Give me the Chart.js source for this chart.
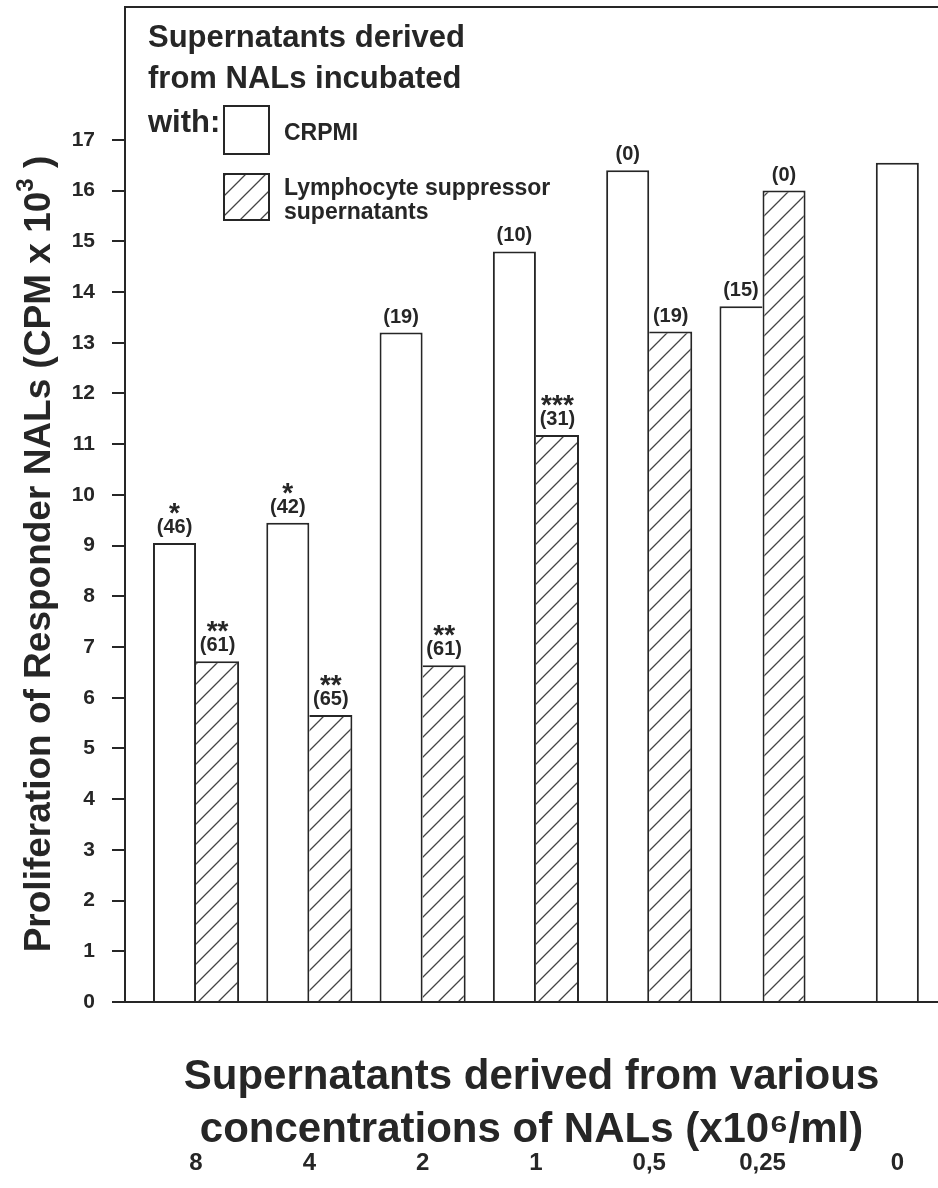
<!DOCTYPE html>
<html>
<head>
<meta charset="utf-8">
<script src="https://cdn.jsdelivr.net/npm/chart.js"></script>
<style>
  html, body { margin: 0; padding: 0; background: #fff; }
  #chart { display: block; }
</style>
</head>
<body>
<canvas id="chart" width="938" height="1188"></canvas>
<script>
// NAL concentrations used to make the supernatants (x10^6/ml)
const concentrations = ['8', '4', '2', '1', '0,5', '0,25', '0'];
// proliferation of responder NALs, CPM x 10^3
const crpmiValues = [9.05, 9.45, 13.2, 14.8, 16.4, 13.72];
const suppressorValues = [6.72, 5.66, 6.64, 11.18, 13.22, 16.0];
const controlValue = 16.55; // responders alone, at '0'
// % suppression and significance
const crpmiPct = ['(46)', '(42)', '(19)', '(10)', '(0)', '(15)'];
const crpmiStars = ['*', '*', '', '', '', ''];
const suppPct = ['(61)', '(65)', '(61)', '(31)', '(19)', '(0)'];
const suppStars = ['**', '**', '**', '***', '', ''];
const yTicks = [0, 1, 2, 3, 4, 5, 6, 7, 8, 9, 10, 11, 12, 13, 14, 15, 16, 17];

const FONT = '"Liberation Sans", Arial, Helvetica, sans-serif';
const INK = '#262626';
const barFrac = 0.76;
const xMin = -0.627, xMax = 6.549;

Chart.defaults.font.family = FONT;
Chart.defaults.color = INK;

function makeHatch() {
    const c = document.createElement('canvas');
    c.width = 20; c.height = 20;
    const g = c.getContext('2d');
    g.fillStyle = '#fff';
    g.fillRect(0, 0, 20, 20);
    g.strokeStyle = '#444';
    g.lineWidth = 1.3;
    g.beginPath();
    g.moveTo(-2, 22); g.lineTo(22, -2);
    g.moveTo(-2, 2); g.lineTo(2, -2);
    g.moveTo(18, 22); g.lineTo(22, 18);
    g.stroke();
    return g.createPattern(c, 'repeat');
}
const hatch = makeHatch();

// labels above the bars
const annotate = {
    id: 'annotate',
    afterDatasetsDraw(chart) {
        const ctx = chart.ctx;
        const marks = [[crpmiPct, crpmiStars], [suppPct, suppStars]];
        ctx.save();
        ctx.fillStyle = INK;
        ctx.textAlign = 'center';
        ctx.textBaseline = 'alphabetic';
        marks.forEach(([pct, stars], di) => {
            chart.getDatasetMeta(di).data.forEach((bar, i) => {
                ctx.font = `bold 20px ${FONT}`;
                ctx.fillText(pct[i], bar.x, bar.y - 10);
                if (stars[i]) {
                    ctx.font = `bold 28px ${FONT}`;
                    ctx.fillText(stars[i], bar.x, bar.y - 21);
                }
            });
        });
        ctx.restore();
    }
};

// frame top, legend block, y title
const decor = {
    id: 'decor',
    afterDraw(chart) {
        const ctx = chart.ctx;
        const a = chart.chartArea;
        ctx.save();
        ctx.strokeStyle = INK;
        ctx.lineWidth = 2;
        ctx.beginPath();
        ctx.moveTo(a.left, a.top);
        ctx.lineTo(a.right, a.top);
        ctx.stroke();

        ctx.fillStyle = INK;
        ctx.textAlign = 'left';
        ctx.textBaseline = 'alphabetic';
        ctx.font = `bold 31px ${FONT}`;
        ctx.fillText('Supernatants derived', 148, 47);
        ctx.fillText('from NALs incubated', 148, 88);
        ctx.fillText('with:', 148, 132);

        ctx.strokeRect(224, 106, 45, 48);
        ctx.fillStyle = hatch;
        ctx.fillRect(224, 174, 45, 46);
        ctx.strokeRect(224, 174, 45, 46);

        ctx.fillStyle = INK;
        ctx.font = `bold 23px ${FONT}`;
        ctx.fillText('CRPMI', 284, 140);
        ctx.fillText('Lymphocyte suppressor', 284, 195);
        ctx.fillText('supernatants', 284, 219);

        // rotated axis title with superscript
        const big = `bold 37px ${FONT}`, sup = `bold 24px ${FONT}`;
        const parts = [['Proliferation of Responder NALs (CPM x 10', big, 0], ['3', sup, -17], [' )', big, 0]];
        ctx.translate(50, 554);
        ctx.rotate(-Math.PI / 2);
        let w = 0;
        parts.forEach(p => { ctx.font = p[1]; w += ctx.measureText(p[0]).width; });
        let x = -w / 2;
        parts.forEach(p => {
            ctx.font = p[1];
            ctx.fillText(p[0], x, p[2]);
            x += ctx.measureText(p[0]).width;
        });
        ctx.restore();
    }
};

const edge = 2;
new Chart(document.getElementById('chart'), {
    type: 'bar',
    data: {
        datasets: [
            {
                label: 'CRPMI',
                data: crpmiValues.map((v, i) => ({ x: i, y: v })),
                backgroundColor: '#fff',
                borderColor: INK,
                borderWidth: c => ({ top: edge, left: edge, bottom: 0,
                    right: crpmiValues[c.dataIndex] >= suppressorValues[c.dataIndex] ? edge : 0 }),
                stack: 'a'
            },
            {
                label: 'Lymphocyte suppressor supernatants',
                data: suppressorValues.map((v, i) => ({ x: i, y: v })),
                backgroundColor: hatch,
                borderColor: INK,
                borderWidth: c => ({ top: edge, right: edge, bottom: 0,
                    left: suppressorValues[c.dataIndex] > crpmiValues[c.dataIndex] ? edge : 0 }),
                stack: 'b'
            },
            {
                label: 'Responders alone',
                data: [{ x: concentrations.length - 1, y: controlValue }],
                backgroundColor: '#fff',
                borderColor: INK,
                borderWidth: { top: edge, left: edge, right: edge, bottom: 0 },
                stack: 'b'
            }
        ]
    },
    options: {
        responsive: false,
        animation: false,
        categoryPercentage: barFrac,
        barPercentage: 1,
        layout: { padding: { top: 7, left: 0, right: 0, bottom: 0 } },
        plugins: { legend: { display: false }, tooltip: { enabled: false } },
        scales: {
            x: {
                type: 'linear', min: xMin, max: xMax, offset: false, stacked: true,
                afterBuildTicks: s => { s.ticks = concentrations.map((_, i) => ({ value: i })); },
                afterFit: s => { s.height = 149; s.paddingLeft = 0; s.paddingRight = 0; },
                grid: { display: false, drawTicks: false, offset: false },
                border: { display: true, color: INK, width: 2 },
                ticks: { display: false },
                title: {
                    display: true,
                    text: ['Supernatants derived from various', 'concentrations of NALs (x10\u2076/ml)'],
                    font: { size: 42, weight: 'bold', lineHeight: 1.24 },
                    color: INK,
                    padding: { top: 0, bottom: -5 }
                }
            },
            x2: {
                type: 'linear', position: 'bottom', weight: 1, min: xMin, max: xMax, offset: false,
                afterBuildTicks: s => {
                    s.ticks = concentrations.map((_, i) => ({
                        value: i === concentrations.length - 1 ? i + barFrac / 4 : i }));
                },
                afterFit: s => { s.height = 37; s.paddingLeft = 0; s.paddingRight = 0; },
                grid: { display: false, drawTicks: false },
                border: { display: false },
                ticks: {
                    padding: -2, autoSkip: false, maxRotation: 0,
                    font: { size: 24, weight: 'bold' }, color: INK,
                    callback: (v, i) => concentrations[i]
                }
            },
            y: {
                min: 0, max: 19.62, stacked: true,
                afterBuildTicks: s => { s.ticks = yTicks.map(v => ({ value: v })); },
                afterFit: s => { s.width = 125; s.paddingTop = 0; s.paddingBottom = 0; },
                grid: { drawOnChartArea: false, drawTicks: true, tickLength: 13, color: INK, lineWidth: 2 },
                border: { display: true, color: INK, width: 2 },
                ticks: { padding: 17, font: { size: 21, weight: 'bold' }, color: INK }
            }
        }
    },
    plugins: [annotate, decor]
});
</script>
</body>
</html>
